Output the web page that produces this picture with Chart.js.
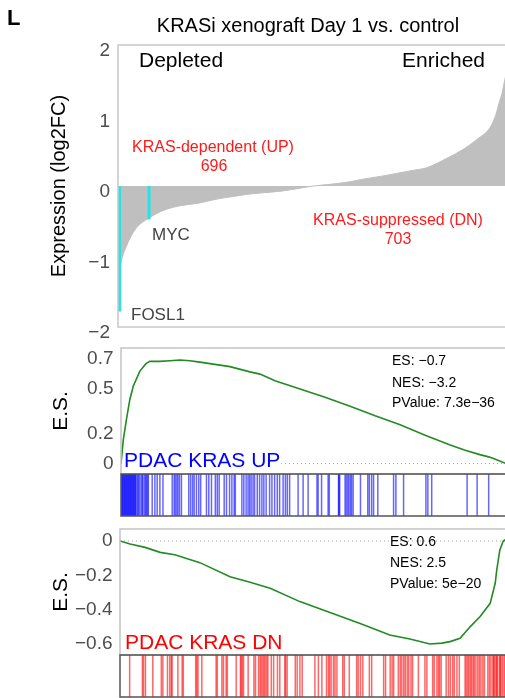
<!DOCTYPE html>
<html>
<head>
<meta charset="utf-8">
<script src="https://cdn.jsdelivr.net/npm/chart.js@4.4.1/dist/chart.umd.min.js"></script>
<style>
  html, body { margin: 0; padding: 0; background: #fff; overflow: hidden; }
  #wrap { position: relative; width: 505px; height: 698px; overflow: hidden; }
  #wrap canvas { position: absolute; left: 0; top: 0; }
</style>
</head>
<body>
<div id="wrap">
  <canvas id="expr" width="506" height="698"></canvas>
  <canvas id="es-up" width="506" height="698"></canvas>
  <canvas id="hits-up" width="506" height="698"></canvas>
  <canvas id="es-dn" width="506" height="698"></canvas>
  <canvas id="hits-dn" width="506" height="698"></canvas>
</div>
<script>
// ranked list position, in % of all genes
const exprRank = [0, 0.4, 0.7, 1.2, 2.2, 3.9, 5.5, 7.5, 10, 12.5, 16, 21.1, 25, 29.6, 33, 36.6, 42.5, 46, 50.3, 54, 59.8, 62.4, 68, 75.8, 79.6, 85, 89, 92.5, 95.9, 97.3, 98.5, 99, 99.7, 100];
const exprLog2FC = [-1.78, -1.4, -1.14, -1.0, -0.85, -0.66, -0.55, -0.47, -0.39, -0.33, -0.28, -0.24, -0.19, -0.15, -0.12, -0.1, -0.07, -0.04, 0, 0.02, 0.06, 0.09, 0.14, 0.22, 0.26, 0.4, 0.52, 0.66, 0.83, 1.0, 1.23, 1.32, 1.51, 1.58];
const exprTicks = [-2, -1, 0, 1, 2];

const geneNames = ['FOSL1', 'MYC'];
const geneRank = [0.4, 8.0];
const geneLog2FC = [-1.78, -0.475];

const esUpRank = [0, 0.6, 1.5, 2.3, 3.2, 4.9, 6.5, 7.5, 10, 12.7, 15.3, 17.9, 20.5, 24.4, 28.3, 33.5, 36.1, 40, 46.5, 53, 59.5, 66, 72.5, 79, 85.5, 89.4, 93.2, 95.5, 97.1, 100];
const esUpScore = [0, 0.16, 0.31, 0.43, 0.52, 0.62, 0.67, 0.685, 0.685, 0.69, 0.695, 0.69, 0.68, 0.665, 0.65, 0.615, 0.6, 0.555, 0.5, 0.445, 0.385, 0.32, 0.26, 0.19, 0.125, 0.09, 0.06, 0.045, 0.03, 0];
const esUpTicks = [0, 0.2, 0.5, 0.7];
const upStats = ['ES: \u22120.7', 'NES: \u22123.2', 'PValue: 7.3e\u221236'];
const upHitRank = [
  0.1, 0.3, 0.4, 0.6, 0.8, 0.9, 1.1, 1.3, 1.4, 1.6, 1.8, 1.9, 2.1, 2.3, 2.4, 2.6, 2.8, 2.9, 3.1, 3.3, 3.4, 3.6, 3.8, 3.9,
  4.3, 4.5, 4.8, 5.2, 5.5, 5.7, 6.1, 6.4, 6.6, 6.9, 7.1,
  8.1, 8.8, 9.4, 10.1, 10.9,
  13.3, 13.8, 14.1, 14.5, 14.8, 15.2, 15.7,
  17.6, 18.1, 18.6, 19.0, 19.6, 20.2, 20.7,
  22.2, 22.8, 23.5, 24.5, 25.0, 25.5,
  26.8, 27.4, 28.2, 28.8, 29.4, 29.7,
  31.4, 31.9, 32.5, 33.0, 33.4, 33.8, 34.3,
  34.7, 35.4, 36.0, 36.6, 37.1, 37.7,
  38.6, 39.2, 39.9, 40.6, 41.2, 42.1, 42.7, 43.2,
  43.8, 46.0, 47.3, 48.6,
  50.9, 51.2, 52.1, 53.8, 54.1, 56.5, 56.6, 56.8,
  58.2, 58.5, 58.9, 59.2, 59.6, 59.9, 60.3,
  62.2, 64.1, 64.5, 65.1, 65.6, 66.7,
  70.8, 71.4, 73.4, 79.2, 79.7, 80.7,
  89.9, 92.5, 95.5
];

const esDnRank = [0, 2.6, 6.5, 10.4, 14.2, 20.7, 28.5, 33.7, 38.9, 46.6, 54.4, 62.2, 69.9, 75.1, 80.3, 83.4, 85.5, 88.1, 90.7, 93.3, 95.9, 97.2, 97.6, 98.4, 99.3, 100];
const esDnScore = [0, -0.017, -0.037, -0.066, -0.08, -0.126, -0.208, -0.24, -0.275, -0.353, -0.417, -0.48, -0.547, -0.571, -0.6, -0.595, -0.586, -0.567, -0.5, -0.44, -0.363, -0.246, -0.17, -0.052, 0, 0.01];
const esDnTicks = [0, -0.2, -0.4, -0.6];
const dnStats = ['ES: 0.6', 'NES: 2.5', 'PValue: 5e\u221220'];
const dnHitRank = [
  2.5, 5.8, 6.1, 6.6, 8.5, 10.7, 11.1, 12.3, 12.9, 13.3, 13.5, 15.0, 16.1, 16.4,
  19.6, 19.9, 20.2, 21.2, 24.9, 25.2, 26.4, 26.8, 27.5, 27.8, 30.1,
  31.2, 31.4, 31.7, 32.0, 33.2, 34.7, 35.1,
  35.9, 36.3, 36.6, 37.0, 37.3, 37.6, 38.0, 38.3, 39.2, 39.8, 40.8, 41.4,
  42.7, 42.9, 43.3, 45.4, 45.9, 46.6, 47.2,
  50.5, 51.4, 52.3, 53.5, 54.0, 54.3, 54.7, 55.3, 55.7, 56.2, 57.7, 58.1, 59.4,
  61.3, 61.7, 62.3, 62.9, 64.6, 65.2, 68.3, 68.8, 70.0, 70.5, 70.9,
  72.1, 72.6, 73.0, 73.5, 73.9, 74.4, 74.8, 75.4, 75.8, 77.3, 79.0, 79.5,
  81.0, 81.4, 82.1, 82.5, 82.8, 83.2, 84.5, 85.1, 85.6, 86.2, 86.6, 87.3, 87.9,
  89.4, 89.7, 90.1, 90.4, 90.8, 91.1, 91.5, 91.8, 92.2, 92.7, 93.1, 93.5, 94.0, 94.4,
  95.3, 95.7, 96.1, 96.6, 96.8, 97.0, 97.4, 97.6, 97.8, 98.3, 98.5, 98.7, 99.1, 99.5, 99.8
];

const H = 698;
const F = "'Liberation Sans', Arial, Helvetica, sans-serif";

Chart.defaults.font.family = F;
Chart.defaults.animation = false;
Chart.defaults.events = [];
Chart.defaults.plugins.legend.display = false;
Chart.defaults.plugins.tooltip.enabled = false;

const fmt = v => (v < 0 ? '\u2212' : '') + Math.abs(v);
const pts = (xs, ys) => xs.map((x, i) => ({ x: x, y: ys[i] }));

// frame around the plotting area
const boxPlugin = {
  id: 'box',
  afterDatasetsDraw(chart, args, opts) {
    const { left, top, right, bottom } = chart.chartArea;
    const ctx = chart.ctx;
    ctx.save();
    ctx.strokeStyle = opts.color;
    ctx.lineWidth = opts.width;
    ctx.strokeRect(left, top, right - left, bottom - top);
    ctx.restore();
  }
};

// free text labels
const notesPlugin = {
  id: 'notes',
  afterDraw(chart, args, opts) {
    const ctx = chart.ctx;
    (opts.items || []).forEach(it => {
      ctx.save();
      ctx.font = it.font;
      ctx.textAlign = it.align || 'left';
      ctx.textBaseline = 'alphabetic';
      if (it.bg) {
        const w = ctx.measureText(it.text).width;
        ctx.fillStyle = it.bg;
        ctx.fillRect(it.x - 1, it.y - 17, w + 2, 21);
      }
      ctx.fillStyle = it.color || '#000';
      ctx.fillText(it.text, it.x, it.y);
      ctx.restore();
    });
  }
};

function esYAxis(left, min, max, ticks) {
  return {
    min: min,
    max: max,
    afterBuildTicks: a => { a.ticks = ticks.map(v => ({ value: v })); },
    afterFit: a => { a.width = left; },
    grid: { display: false, drawTicks: false },
    border: { display: false },
    ticks: { padding: 7.5, color: '#4d4d4d', font: { size: 19 }, callback: fmt },
    title: { display: true, text: 'E.S.', color: '#000', font: { size: 21 }, padding: { top: 49, bottom: 0 } }
  };
}

function statItems(lines, x, ys) {
  return lines.map((t, i) => ({ text: t, x: x, y: ys[i], font: '14px ' + F }));
}

// ---- ranked expression panel ----
new Chart(document.getElementById('expr'), {
  type: 'line',
  data: {
    datasets: [
      {
        data: pts(exprRank, exprLog2FC),
        fill: 'origin',
        backgroundColor: '#bfbfbf',
        borderColor: '#bfbfbf',
        borderWidth: 1,
        pointRadius: 0,
        cubicInterpolationMode: 'monotone',
        order: 2
      },
      ...geneNames.map((g, i) => ({
        label: g,
        data: [{ x: geneRank[i], y: 0 }, { x: geneRank[i], y: geneLog2FC[i] }],
        borderColor: '#22e5ea',
        borderWidth: 3,
        borderCapStyle: 'butt',
        pointRadius: 0,
        order: 1
      }))
    ]
  },
  options: {
    responsive: false,
    layout: { padding: { left: 0, right: 0, top: 45, bottom: H - 327 } },
    scales: {
      x: { type: 'linear', min: 0, max: 100, display: false },
      y: {
        min: -2,
        max: 2,
        afterBuildTicks: a => { a.ticks = exprTicks.map(v => ({ value: v })); },
        afterFit: a => { a.width = 118; },
        grid: { display: false, drawTicks: false },
        border: { display: false },
        ticks: { padding: 8, labelOffset: 6, color: '#4d4d4d', font: { size: 19 }, callback: fmt },
        title: { display: true, text: 'Expression (log2FC)', color: '#000', font: { size: 20 }, padding: { top: 47, bottom: 0 } }
      }
    },
    plugins: {
      box: { color: '#c8c8c8', width: 1.5 },
      notes: {
        items: [
          { text: 'L', x: 7, y: 25, font: 'bold 22px ' + F },
          { text: 'KRASi xenograft Day 1 vs. control', x: 308, y: 32, align: 'center', font: '20px ' + F },
          { text: 'Depleted', x: 139, y: 67, font: '21px ' + F },
          { text: 'Enriched', x: 485, y: 67, align: 'right', font: '21px ' + F },
          { text: 'KRAS-dependent (UP)', x: 213, y: 152, align: 'center', font: '16px ' + F, color: '#ff1a1a' },
          { text: '696', x: 214, y: 171, align: 'center', font: '16px ' + F, color: '#ff1a1a' },
          { text: 'KRAS-suppressed (DN)', x: 398, y: 225, align: 'center', font: '16px ' + F, color: '#ff1a1a' },
          { text: '703', x: 398, y: 244, align: 'center', font: '16px ' + F, color: '#ff1a1a' },
          { text: 'MYC', x: 152, y: 240, font: '17px ' + F, color: '#444' },
          { text: 'FOSL1', x: 131, y: 320, font: '17px ' + F, color: '#444' }
        ]
      }
    }
  },
  plugins: [boxPlugin, notesPlugin]
});

// ---- enrichment score, UP set ----
new Chart(document.getElementById('es-up'), {
  type: 'line',
  data: {
    datasets: [
      { data: pts(esUpRank, esUpScore), borderColor: '#228b22', borderWidth: 1.6, pointRadius: 0, order: 1 },
      { data: [{ x: 0, y: 0 }, { x: 100, y: 0 }], borderColor: '#a0a0a0', borderWidth: 1, borderDash: [1, 3], pointRadius: 0, order: 2 }
    ]
  },
  options: {
    responsive: false,
    layout: { padding: { left: 0, right: 0, top: 348, bottom: H - 474 } },
    scales: {
      x: { type: 'linear', min: 0, max: 100, display: false },
      y: esYAxis(121, -0.07, 0.775, esUpTicks)
    },
    plugins: {
      box: { color: '#c4c4c4', width: 1.5 },
      notes: {
        items: statItems(upStats, 392, [365, 386.5, 406.5]).concat([
          { text: 'PDAC KRAS UP', x: 124, y: 467, font: '21px ' + F, color: '#0000ff', bg: '#fff' }
        ])
      }
    }
  },
  plugins: [boxPlugin, notesPlugin]
});

function hitChart(id, hits, color, top, bottom, left) {
  new Chart(document.getElementById(id), {
    type: 'bar',
    data: {
      datasets: [{
        data: hits.map(r => ({ x: r, y: 1 })),
        backgroundColor: color,
        borderWidth: 0,
        barThickness: 1.5,
        inflateAmount: 0
      }]
    },
    options: {
      responsive: false,
      layout: { padding: { left: left, right: 0, top: top, bottom: H - bottom } },
      scales: {
        x: { type: 'linear', min: 0, max: 100, offset: false, display: false },
        y: { min: 0, max: 1, display: false }
      },
      plugins: { box: { color: '#555', width: 1.5 } }
    },
    plugins: [boxPlugin]
  });
}

hitChart('hits-up', upHitRank, 'rgba(0, 0, 255, 0.6)', 474, 516, 121);

// ---- enrichment score, DN set ----
new Chart(document.getElementById('es-dn'), {
  type: 'line',
  data: {
    datasets: [
      { data: pts(esDnRank, esDnScore), borderColor: '#228b22', borderWidth: 1.6, pointRadius: 0, order: 1 },
      { data: [{ x: 0, y: 0 }, { x: 100, y: 0 }], borderColor: '#a0a0a0', borderWidth: 1, borderDash: [1, 3], pointRadius: 0, order: 2 }
    ]
  },
  options: {
    responsive: false,
    layout: { padding: { left: 0, right: 0, top: 529, bottom: H - 655 } },
    scales: {
      x: { type: 'linear', min: 0, max: 100, display: false },
      y: esYAxis(120, -0.664, 0.07, esDnTicks)
    },
    plugins: {
      box: { color: '#c4c4c4', width: 1.5 },
      notes: {
        items: statItems(dnStats, 390, [546, 566.5, 587.5]).concat([
          { text: 'PDAC KRAS DN', x: 125, y: 649, font: '21px ' + F, color: '#ff0000' }
        ])
      }
    }
  },
  plugins: [boxPlugin, notesPlugin]
});

hitChart('hits-dn', dnHitRank, 'rgba(255, 0, 0, 0.6)', 655, 697, 120);
</script>
</body>
</html>
